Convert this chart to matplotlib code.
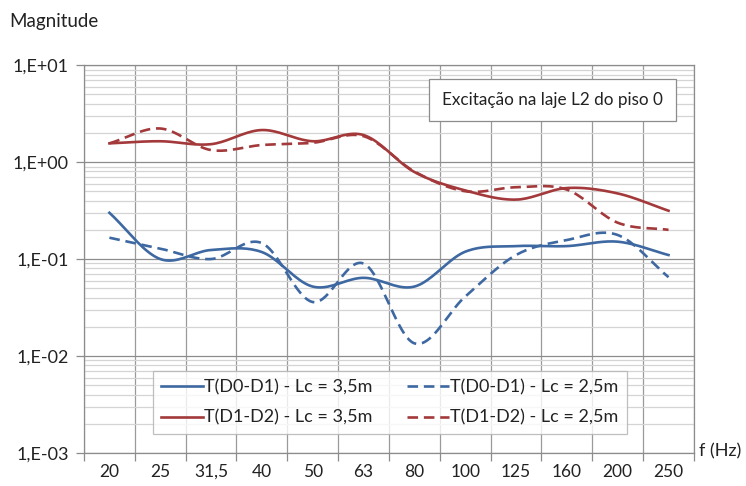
import numpy as np
import matplotlib
matplotlib.use("Agg")
import matplotlib.pyplot as plt
from matplotlib.ticker import FixedLocator, NullFormatter, LogLocator

# dados
freqs = ['20', '25', '31,5', '40', '50', '63', '80', '100', '125', '160', '200', '250']
t01_35 = [0.30, 0.100, 0.124, 0.118, 0.052, 0.064, 0.052, 0.119, 0.136, 0.136, 0.151, 0.110]
t01_25 = [0.166, 0.128, 0.100, 0.146, 0.036, 0.090, 0.0135, 0.041, 0.110, 0.157, 0.177, 0.065]
t12_35 = [1.56, 1.64, 1.53, 2.14, 1.64, 1.90, 0.79, 0.51, 0.41, 0.54, 0.475, 0.315]
t12_25 = [1.56, 2.22, 1.33, 1.50, 1.58, 1.85, 0.80, 0.50, 0.55, 0.52, 0.237, 0.200]

blue = '#3D68A1'
red = '#A3393A'
plt.rcParams['font.family'] = ['Lato', 'DejaVu Sans']


def smooth(vals, n=20):
    # Catmull-Rom em escala log (como a suavizacao do Excel)
    y = np.log10(vals)
    p = np.concatenate([[2 * y[0] - y[1]], y, [2 * y[-1] - y[-2]]])
    xs, ys = [], []
    for i in range(len(y) - 1):
        t = np.linspace(0, 1, n, endpoint=False)
        p0, p1, p2, p3 = p[i], p[i + 1], p[i + 2], p[i + 3]
        seg = 0.5 * ((2 * p1) + (-p0 + p2) * t + (2 * p0 - 5 * p1 + 4 * p2 - p3) * t ** 2
                     + (-p0 + 3 * p1 - 3 * p2 + p3) * t ** 3)
        xs.append(i + t)
        ys.append(seg)
    xs.append([len(y) - 1])
    ys.append([y[-1]])
    return np.concatenate(xs), 10 ** np.concatenate(ys)


fig = plt.figure(figsize=(7.46, 4.86), dpi=100)
ax = fig.add_axes([0.1126, 0.068, 0.8176, 0.798])
ax.set_yscale('log')
ax.set_ylim(1e-3, 1e1)
ax.set_xlim(-0.5, len(freqs) - 0.5)

series = [
    (t01_35, blue, '-', 'T(D0-D1) - Lc = 3,5m'),
    (t12_35, red, '-', 'T(D1-D2) - Lc = 3,5m'),
    (t01_25, blue, '--', 'T(D0-D1) - Lc = 2,5m'),
    (t12_25, red, '--', 'T(D1-D2) - Lc = 2,5m'),
]
handles = []
for vals, c, ls, lab in series:
    xs, ys = smooth(vals)
    ln, = ax.plot(xs, ys, color=c, lw=1.9, label=lab, zorder=3)
    if ls == '--':
        ln.set_dashes((4, 2.2))
    handles.append(ln)

# grelha
ax.yaxis.set_major_locator(FixedLocator([1e-3, 1e-2, 1e-1, 1e0, 1e1]))
ax.yaxis.set_minor_locator(LogLocator(base=10, subs=np.arange(2, 10)))
ax.yaxis.set_minor_formatter(NullFormatter())
ax.set_yticklabels(['1,E-03', '1,E-02', '1,E-01', '1,E+00', '1,E+01'])
ax.grid(which='major', axis='y', color='#8c8c8c', lw=0.9)
ax.grid(which='minor', axis='y', color='#d4d4d4', lw=0.9)
ax.set_xticks(np.arange(len(freqs)))
ax.set_xticklabels(freqs)
ax.set_xticks(np.arange(len(freqs) + 1) - 0.5, minor=True)
ax.grid(which='minor', axis='x', color='#9a9a9a', lw=0.9)
ax.tick_params(axis='x', which='major', length=0, labelsize=12.5, pad=8, colors='#222222')
ax.tick_params(axis='x', which='minor', length=6, color='#8c8c8c', width=0.9)
ax.tick_params(axis='y', which='major', length=6, color='#8c8c8c', width=0.9, labelsize=13,
               pad=5, labelcolor='#222222')
ax.tick_params(axis='y', which='minor', length=0)
for s in ax.spines.values():
    s.set_color('#8c8c8c')
    s.set_linewidth(0.9)
ax.set_axisbelow(True)

fig.text(0.013, 0.955, 'Magnitude', fontsize=13.5, color='#222222', va='center')
fig.text(0.937, 0.072, 'f (Hz)', fontsize=13, color='#222222', va='center')

ax.text(0.768, 0.91, 'Excitação na laje L2 do piso 0', transform=ax.transAxes, fontsize=12.3,
        ha='center', va='center', color='#222222',
        bbox=dict(boxstyle='square,pad=0.75', fc='white', ec='#8c8c8c', lw=0.9))

leg = ax.legend(handles=handles, ncol=2, loc='lower left', bbox_to_anchor=(0.113, 0.049),
                borderaxespad=0, fontsize=13, frameon=True, fancybox=False, handlelength=2.3,
                handletextpad=0.1, columnspacing=1.9, borderpad=0.45, labelspacing=0.8)
leg.get_frame().set_edgecolor('#b0b0b0')
leg.get_frame().set_linewidth(0.9)
for t in leg.get_texts():
    t.set_color('#222222')

fig.savefig('out.png', dpi=100)
